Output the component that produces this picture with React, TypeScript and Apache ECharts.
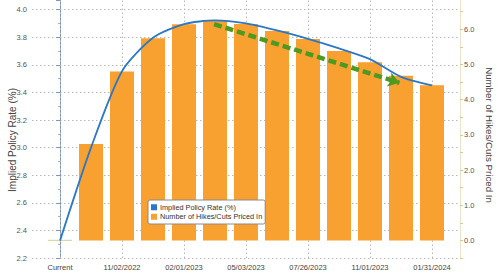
import React, { useEffect, useRef } from "react";
import * as echarts from "echarts";

const categories = [
  "Current", "09/21/2022", "11/02/2022", "12/14/2022", "02/01/2023", "03/22/2023",
  "05/03/2023", "06/14/2023", "07/26/2023", "09/20/2023", "11/01/2023", "12/13/2023", "01/31/2024",
];
const impliedRate = [2.326, 3.0, 3.554, 3.796, 3.895, 3.922, 3.9, 3.849, 3.788, 3.719, 3.641, 3.513, 3.451];
const hikesPriced = [0, 2.74, 4.8, 5.74, 6.14, 6.24, 6.15, 5.95, 5.72, 5.38, 5.06, 4.68, 4.41];
// trend arrow annotation: [category index, implied rate]
const arrowFrom = [4.97, 3.895];
const arrowTo = [10.95, 3.47];

const rateName = "Implied Policy Rate (%)";
const hikesName = "Number of Hikes/Cuts Priced In";

const FONT = "Liberation Sans";
const LEFT_MIN = 2.2, LEFT_MAX = 4.07, LEFT_INT = 0.2;
const RIGHT_MIN = -0.5, RIGHT_MAX = 6.83, RIGHT_INT = 0.5;

export default function App() {
  const ref = useRef<HTMLDivElement>(null);
  useEffect(() => {
    if (!ref.current) return;
    const chart = echarts.init(ref.current, null, { renderer: "svg" });
    const dotted = { color: "#b8b8b8", width: 1, type: [1.5, 2.5] as any };
    const n = categories.length;
    const side = 28 / 31;
    chart.setOption({
      animation: false,
      backgroundColor: "#ffffff",
      grid: [
        { left: 32, right: 40, top: 0, bottom: 14, containLabel: false },
        { left: 44.5, right: 52.5, top: 0, bottom: 14, containLabel: false },
      ],
      xAxis: [
        { gridIndex: 0, type: "value", min: -side, max: n - 1 + side, show: false },
        {
          gridIndex: 1,
          type: "category",
          data: categories,
          boundaryGap: true,
          axisLine: { show: false },
          axisTick: { show: false },
          axisLabel: { interval: 1, fontSize: 7.5, fontFamily: FONT, color: "#444", margin: 5 },
          splitLine: { show: false },
        },
      ],
      yAxis: [
        {
          gridIndex: 0,
          type: "value",
          position: "left",
          min: LEFT_MIN,
          max: LEFT_MAX,
          interval: LEFT_INT,
          axisLine: { show: true, lineStyle: { color: "#7b95bd", width: 1 } },
          axisTick: { show: true, length: 4, lineStyle: { color: "#7b95bd" } },
          minorTick: { show: true, splitNumber: 2, length: 2, lineStyle: { color: "#9fb2cf" } },
          axisLabel: {
            fontSize: 7.5, fontFamily: FONT, color: "#555", margin: 5, showMaxLabel: false,
            formatter: (v: number) => v.toFixed(1),
          },
          splitLine: { show: true, showMaxLine: false, lineStyle: dotted },
        },
        {
          gridIndex: 0,
          type: "value",
          position: "right",
          min: RIGHT_MIN,
          max: RIGHT_MAX,
          interval: RIGHT_INT,
          axisLine: { show: true, lineStyle: { color: "#ebe3c9", width: 1 } },
          axisTick: { show: true, length: 3, lineStyle: { color: "#e0c98e" } },
          axisLabel: {
            fontSize: 7.5, fontFamily: FONT, color: "#555", margin: 4, showMaxLabel: false,
            formatter: (v: number) =>
              v >= 0 && Math.abs(v - Math.round(v)) < 1e-6 ? v.toFixed(1) : "",
          },
          splitLine: { show: false },
        },
        { gridIndex: 1, type: "value", min: LEFT_MIN, max: LEFT_MAX, interval: LEFT_INT, show: false },
        { gridIndex: 1, type: "value", min: RIGHT_MIN, max: RIGHT_MAX, interval: RIGHT_INT, show: false },
      ],
      legend: {
        data: [rateName, hikesName],
        orient: "vertical",
        left: 148,
        top: 200,
        icon: "rect",
        itemWidth: 6,
        itemHeight: 6,
        itemGap: 1,
        padding: [3, 3, 3, 3],
        backgroundColor: "#ffffff",
        borderColor: "#8a8a8a",
        borderWidth: 1,
        borderRadius: 2,
        selectedMode: false,
        textStyle: { fontSize: 7.3, fontFamily: FONT, color: "#333", padding: [0, 0, 0, -2], lineHeight: 8.5 },
      },
      series: [
        {
          name: hikesName,
          type: "bar",
          xAxisIndex: 1,
          yAxisIndex: 3,
          barWidth: 24,
          itemStyle: { color: "#f8a131" },
          data: hikesPriced.map((v) =>
            v === 0 ? { value: v, itemStyle: { color: "#d9d6a6", borderColor: "#d9d6a6", borderWidth: 1 } } : v
          ),
          markLine: {
            z: 1,
            silent: true,
            symbol: ["none", "none"],
            label: { show: false },
            lineStyle: dotted,
            data: categories.filter((_, i) => i % 2 === 0).map((c) => ({ xAxis: c })),
          },
        },
        {
          name: rateName,
          type: "line",
          xAxisIndex: 1,
          yAxisIndex: 2,
          smooth: 0.25,
          showSymbol: false,
          symbol: "none",
          itemStyle: { color: "#2b78c6" },
          lineStyle: { color: "#2b78c6", width: 1.8 },
          data: impliedRate,
          z: 3,
        },
        {
          name: "trend",
          type: "line",
          xAxisIndex: 0,
          yAxisIndex: 0,
          symbol: "none",
          lineStyle: { opacity: 0 },
          data: [arrowFrom, arrowTo],
          z: 4,
          markLine: {
            silent: true,
            symbol: ["none", "arrow"],
            symbolSize: 11,
            label: { show: false },
            lineStyle: { color: "#4c9a21", width: 4.5, type: [8, 4] as any },
            data: [[{ coord: arrowFrom }, { coord: arrowTo }]],
          },
        },
      ],
      graphic: [
        {
          type: "text",
          x: 12,
          y: 140,
          rotation: Math.PI / 2,
          style: {
            text: rateName, fontSize: 10, fontFamily: FONT, fill: "#444",
            align: "center", verticalAlign: "middle",
          },
        },
        {
          type: "text",
          x: 489,
          y: 135,
          rotation: -Math.PI / 2,
          style: {
            text: hikesName, fontSize: 9.7, fontFamily: FONT, fill: "#444",
            align: "center", verticalAlign: "middle",
          },
        },
      ],
    });
    return () => chart.dispose();
  }, []);
  return (
    <div
      ref={ref}
      style={{ position: "fixed", left: 0, top: 0, width: 500, height: 272, background: "#fff" }}
    />
  );
}
